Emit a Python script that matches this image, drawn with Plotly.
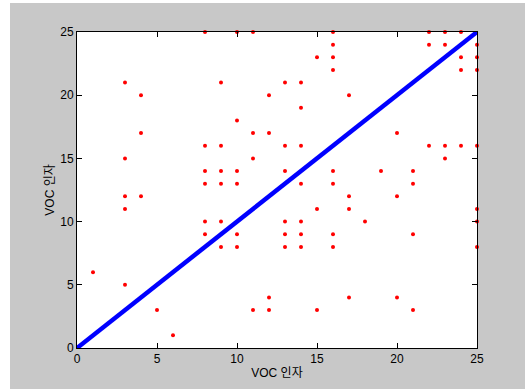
import plotly.graph_objects as go

# Scatter data
x_vals = [1, 3, 3, 3, 3, 3, 4, 4, 4, 5, 6,
          8, 8, 8, 8, 8, 8,
          9, 9, 9, 9, 9, 9,
          10, 10, 10, 10, 10, 10,
          11, 11, 11, 11,
          12, 12, 12, 12,
          13, 13, 13, 13, 13, 13,
          14, 14, 14, 14, 14, 14, 14,
          15, 15, 15,
          16, 16, 16, 16, 16, 16, 16, 16,
          17, 17, 17, 17,
          18, 19,
          20, 20, 20,
          21, 21, 21, 21,
          22, 22, 22,
          23, 23, 23, 23,
          24, 24, 24, 24,
          25, 25, 25, 25, 25, 25, 25]
y_vals = [6, 5, 11, 12, 15, 21, 12, 17, 20, 3, 1,
          9, 10, 13, 14, 16, 25,
          8, 10, 13, 14, 16, 21,
          8, 9, 13, 14, 18, 25,
          3, 15, 17, 25,
          3, 4, 17, 20,
          8, 9, 10, 14, 16, 21,
          8, 9, 10, 13, 16, 19, 21,
          3, 11, 23,
          8, 9, 13, 14, 22, 23, 24, 25,
          4, 11, 12, 20,
          10, 14,
          4, 12, 17,
          3, 9, 13, 14,
          16, 24, 25,
          15, 16, 24, 25,
          16, 22, 23, 25,
          8, 10, 11, 16, 22, 23, 24]

# Reference diagonal
line_x = [0, 25]
line_y = [0, 25]

tick_vals = [0, 5, 10, 15, 20, 25]
axis_title = "VOC 인자"

FONT = "Liberation Sans, Arial, Noto Sans CJK KR, sans-serif"

fig = go.Figure()
fig.add_trace(go.Scatter(
    x=x_vals, y=y_vals, mode="markers",
    marker=dict(color="#ff0000", size=4, symbol="circle"),
    cliponaxis=False, showlegend=False))
fig.add_trace(go.Scatter(
    x=line_x, y=line_y, mode="lines",
    line=dict(color="#0000ff", width=4.5),
    cliponaxis=False, showlegend=False))

L, R, T, B = 77, 48, 32, 41
W, H = 525, 389
pw, ph = W - L - R, H - T - B

axis_common = dict(
    range=[0, 25], tickvals=tick_vals, ticks="inside", ticklen=5,
    tickcolor="#000000", showline=True, linecolor="#000000", linewidth=1,
    mirror="ticks", showgrid=False, zeroline=False, automargin=False,
    tickfont=dict(family=FONT, size=12, color="#000000"),
)

fig.update_layout(
    width=W, height=H,
    margin=dict(l=L, r=R, t=T, b=B, autoexpand=False),
    paper_bgcolor="white", plot_bgcolor="white",
    font=dict(family=FONT, size=12, color="#000000"),
    xaxis=dict(**axis_common, title=dict(text=axis_title, standoff=3,
                                          font=dict(family=FONT, size=12))),
    yaxis=dict(**axis_common, title=dict(text=axis_title, standoff=3,
                                          font=dict(family=FONT, size=12))),
    shapes=[
        dict(type="rect", xref="paper", yref="paper", layer="below",
             x0=(10 - L) / pw, x1=(W - L) / pw + 0.05,
             y0=-(B + 5) / ph, y1=(H - B - 3) / ph,
             fillcolor="#c8c8c8", line=dict(width=0)),
        dict(type="rect", xref="paper", yref="paper", layer="below",
             x0=0, x1=1, y0=0, y1=1,
             fillcolor="white", line=dict(width=0)),
    ],
)

fig.write_html(
    "out.html",
    config={"displayModeBar": False},
    post_script="document.body.style.margin='0';document.body.style.overflow='hidden';",
)
